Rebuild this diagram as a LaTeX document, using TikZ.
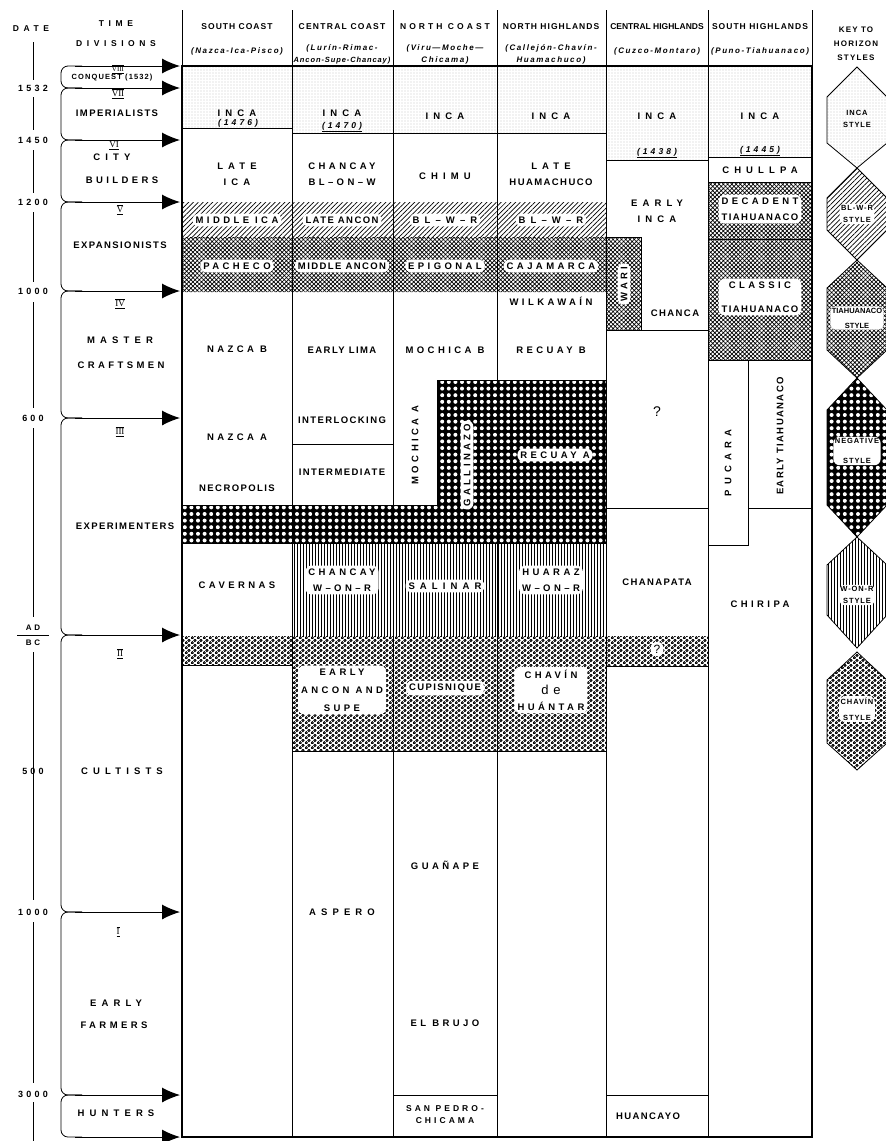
\documentclass[tikz,border=0pt]{standalone}
\usepackage{fontspec}
\setmainfont{Liberation Sans}
\newfontfamily\trackA[LetterSpace=15]{Liberation Sans}
\newfontfamily\trackB[LetterSpace=36]{Liberation Sans}
\newfontfamily\trackC[LetterSpace=54]{Liberation Sans}
\newfontfamily\trackH[LetterSpace=12]{Liberation Sans}
\newfontfamily\subfont[LetterSpace=20]{Liberation Sans}
\newfontfamily\romfont{Liberation Serif}
\usetikzlibrary{patterns.meta,arrows.meta}

\newcommand{\rnum}[1]{$\overline{\underline{\mbox{\romfont #1}}}$}

\tikzdeclarepattern{
  name=rings,
  type=uncolored,
  bottom left={(0pt,0pt)},
  top right={(5.6pt,4.9pt)},
  tile size={(5.6pt,4.9pt)},
  code={
    \draw[line width=.9pt] (1.4pt,1.2pt) circle [radius=1.2pt];
    \draw[line width=.9pt] (4.2pt,3.65pt) circle [radius=1.2pt];
  }
}

\tikzset{
  incast/.style={pattern={Dots[distance=3pt,radius=.4pt]}, pattern color=black!60},
  bwrst/.style={pattern={Lines[angle=45,distance=3.4pt,line width=.7pt]}},
  tiast/.style={pattern={Hatch[angle=45,distance=3pt,line width=.7pt]}},
  negst/.style={preaction={fill=black}, pattern={Dots[distance=6.6pt,radius=2pt]}, pattern color=white},
  worst/.style={pattern={Lines[angle=90,distance=3pt,line width=.8pt]}},
  chavst/.style={pattern=rings},
  divarrow/.style={line width=1pt, -{Latex[length=18pt,width=15pt]}},
  t1/.style={align=center, inner sep=1.5pt, font=\fontsize{9.5}{16}\selectfont\trackA\bfseries},
  t2/.style={align=center, inner sep=1.5pt, font=\fontsize{9.5}{16}\selectfont\trackB\bfseries},
  t3/.style={align=center, inner sep=1.5pt, font=\fontsize{9.5}{16}\selectfont\trackC\bfseries},
  blob/.style={fill=white, rounded corners=6pt, inner sep=3pt},
  yr/.style={inner sep=1pt, font=\fontsize{8.5}{9}\selectfont\trackB\bfseries\itshape},
  top/.style={align=center, inner sep=1pt, font=\fontsize{8.5}{20}\selectfont\trackC\bfseries},
  hd/.style={inner sep=0pt, font=\fontsize{8.5}{9}\selectfont\trackH\bfseries},
  sub/.style={inner sep=0pt, font=\fontsize{8}{9}\selectfont\subfont\bfseries\itshape},
  dt/.style={inner sep=1pt, font=\fontsize{9}{9}\selectfont\trackB\bfseries},
  rn/.style={inner sep=1pt, font=\fontsize{9}{9}\selectfont},
  ky/.style={align=center, inner sep=1.5pt, font=\fontsize{7.5}{12}\selectfont\trackH\bfseries},
}

\begin{document}
\begin{tikzpicture}[x=1pt,y=-1pt,line width=.8pt]
  \useasboundingbox (0,0) rectangle (886,1141);

  % horizon style areas
  \fill[incast] (182,66) rectangle (292,128) (292,66) rectangle (606,133)
    (606,66) rectangle (708,160) (708,66) rectangle (812,157);
  \fill[bwrst] (182,202) rectangle (606,237);
  \fill[tiast] (182,237) rectangle (606,292) (606,237) rectangle (641,330)
    (708,182) rectangle (812,360);
  \draw[negst] (437,380) -- (606,380) -- (606,543) -- (182,543) -- (182,505) -- (437,505) -- cycle;
  \fill[worst] (292,543) rectangle (606,636);
  \fill[chavst] (182,636) rectangle (292,665) (292,636) rectangle (606,751)
    (606,636) rectangle (708,666);

  % columns and separators
  \foreach \x in {182,292,393,497,606,708,812}
    \draw (\x,10) -- (\x,1137);
  \draw (182,128) -- (292,128);
  \draw (292,133) -- (606,133);
  \draw (606,160) -- (708,160);
  \draw (708,157) -- (812,157);
  \draw (708,182) -- (812,182);
  \draw (708,239) -- (812,239);
  \draw (606,237) -- (641,237) -- (641,330);
  \draw (606,330) -- (708,330);
  \draw (708,360) -- (812,360);
  \draw (748,360) -- (748,545) -- (708,545);
  \draw (748,508) -- (812,508);
  \draw (606,508) -- (708,508);
  \draw (292,444) -- (393,444);
  \draw (182,665) -- (292,665);
  \draw (292,751) -- (606,751);
  \draw (606,666) -- (708,666);
  \draw (393,1095) -- (497,1095);
  \draw (606,1095) -- (708,1095);
  \draw[line width=1.6pt] (182,66) -- (812,66);
  \draw[line width=1.5pt] (182,66) rectangle (812,1137);

  % dates
  \foreach \a/\b in {42/80,97/130,150/193,212/282,302/408,428/617,652/900,922/1083,1102/1141}
    \draw[line width=.9pt] (33,\a) -- (33,\b);
  \draw (17,635) -- (49,635);
  \node[top] (hdate) at (31,29) {DATE};
  \node[dt] (d1) at (33,88) {1532};
  \node[dt] (d2) at (33,140) {1450};
  \node[dt] (d3) at (33,202) {1200};
  \node[dt] (d4) at (33,291) {1000};
  \node[dt] (d5) at (33,418) {600};
  \node[dt, font=\fontsize{8}{8}\selectfont\trackB\bfseries] (dad) at (33,628) {AD};
  \node[dt, font=\fontsize{8}{8}\selectfont\trackB\bfseries] (dbc) at (33,643) {BC};
  \node[dt] (d6) at (33,771) {500};
  \node[dt] (d7) at (33,912) {1000};
  \node[dt] (d8) at (33,1094) {3000};

  % time divisions
  \foreach \a/\b in {66/88,88/140,140/202,202/291,291/418,418/635,635/912,912/1095,1095/1137}
    \draw[rounded corners=7pt] (82,\a) -- (61,\a) -- (61,\b) -- (82,\b);
  \foreach \y [count=\i] in {66,88,140,202,291,418,635,912,1095,1137} {
    \coordinate (as\i) at (75,\y);
    \coordinate (ae\i) at (180,\y);
    \draw[divarrow] (as\i) -- (ae\i);
  }
  \node[top, font=\fontsize{8.5}{20}\selectfont\trackC\bfseries] (htime) at (116,34) {TIME\\DIVISIONS};
  \node[rn, font=\fontsize{7}{7}\selectfont] (r8) at (118,69) {\rnum{VIII}};
  \node[inner sep=0pt, font=\fontsize{7.5}{8}\selectfont\trackA\bfseries] (conq) at (112,78) {CONQUEST (1532)};
  \node[rn] (r7) at (118,94) {\rnum{VII}};
  \node[t1] (imp) at (117,113) {IMPERIALISTS};
  \node[rn] (r6) at (114,145) {\rnum{VI}};
  \node[t3] (city) at (112,157) {CITY};
  \node[t2] (build) at (122,180) {BUILDERS};
  \node[rn] (r5) at (120,210) {\rnum{V}};
  \node[t1] (expa) at (120,245) {EXPANSIONISTS};
  \node[rn] (r4) at (120,304) {\rnum{IV}};
  \node[t3] (mast) at (120,340) {MASTER};
  \node[t2] (craft) at (121,365) {CRAFTSMEN};
  \node[rn] (r3) at (120,432) {\rnum{III}};
  \node[t1] (expe) at (125,526) {EXPERIMENTERS};
  \node[rn] (r2) at (120,654) {\rnum{II}};
  \node[t3] (cult) at (122,771) {CULTISTS};
  \node[rn] (r1) at (118,932) {\rnum{I}};
  \node[t3] (early) at (116,1003) {EARLY};
  \node[t2] (farm) at (114,1025) {FARMERS};
  \node[t3] (hunt) at (116,1113) {HUNTERS};

  % column heads
  \node[hd] (hsc) at (237,27) {SOUTH COAST};
  \node[hd, font=\fontsize{8.5}{9}\selectfont\trackA\bfseries] (hcc) at (342,27) {CENTRAL COAST};
  \node[hd, font=\fontsize{8.5}{9}\selectfont\trackB\bfseries] (hnc) at (445,27) {NORTH COAST};
  \node[hd] (hnh) at (551,27) {NORTH HIGHLANDS};
  \node[hd, font=\fontsize{8.5}{9}\selectfont\bfseries] (hch) at (657,27) {CENTRAL HIGHLANDS};
  \node[hd] (hsh) at (760,27) {SOUTH HIGHLANDS};
  \node[sub] (ssc) at (237,51) {(Nazca-Ica-Pisco)};
  \node[sub] (scc) at (342,48) {(Lurín-Rimac-};
  \node[sub, font=\fontsize{7.5}{8}\selectfont\trackH\bfseries\itshape] (scc2) at (342,61) {Ancon-Supe-Chancay)};
  \node[sub] (snc) at (445,48) {(Viru—Moche—};
  \node[sub] (snc2) at (445,60) {Chicama)};
  \node[sub] (snh) at (551,48) {(Callejón-Chavín-};
  \node[sub] (snh2) at (551,60) {Huamachuco)};
  \node[sub] (sch) at (657,51) {(Cuzco-Montaro)};
  \node[sub] (ssh) at (760,51) {(Puno-Tiahuanaco)};
  \node[top, font=\fontsize{8}{14}\selectfont\trackA\bfseries] (hkey) at (856,44) {KEY TO\\HORIZON\\STYLES};

  % south coast
  \node[t3] (sc1) at (237,113) {INCA};
  \node[yr] (sc2) at (238,124) {\underline{(1476)}};
  \node[t3] (sc3) at (237,174) {LATE\\ICA};
  \node[t2,blob] (sc4) at (237,220) {MIDDLE ICA};
  \node[t2,blob] (sc5) at (237,266) {PACHECO};
  \node[t2] (sc6) at (237,349) {NAZCA B};
  \node[t2] (sc7) at (237,437) {NAZCA A};
  \node[t1] (sc8) at (237,488) {NECROPOLIS};
  \node[t2] (sc9) at (237,585) {CAVERNAS};

  % central coast
  \node[t3] (cc1) at (342,113) {INCA};
  \node[yr] (cc2) at (342,127) {\underline{(1470)}};
  \node[t2] (cc3) at (342,174) {CHANCAY\\BL–ON–W};
  \node[t1,blob] (cc4) at (342,220) {LATE ANCON};
  \node[t1,blob] (cc5) at (342,266) {MIDDLE ANCON};
  \node[t1] (cc6) at (342,350) {EARLY LIMA};
  \node[t1] (cc7) at (342,420) {INTERLOCKING};
  \node[t1] (cc8) at (342,472) {INTERMEDIATE};
  \node[t2,blob] (cc9) at (342,580) {CHANCAY\\W–ON–R};
  \node[t2,blob,font=\fontsize{9.5}{18}\selectfont\trackB\bfseries] (cc10) at (342,690) {EARLY\\ANCON AND\\SUPE};
  \node[t3] (cc11) at (342,912) {ASPERO};

  % north coast
  \node[t3] (nc1) at (445,116) {INCA};
  \node[t3] (nc2) at (445,176) {CHIMU};
  \node[t3,blob] (nc3) at (445,220) {BL–W–R};
  \node[t2,blob] (nc4) at (445,266) {EPIGONAL};
  \node[t2] (nc5) at (445,350) {MOCHICA B};
  \node[t2,rotate=90] (nc6) at (415,445) {MOCHICA A};
  \node[t2,blob,rotate=90] (nc7) at (467,465) {GALLINAZO};
  \node[t3,blob] (nc8) at (445,586) {SALINAR};
  \node[t1,blob] (nc9) at (445,688) {CUPISNIQUE};
  \node[t2] (nc10) at (445,865) {GUAÑAPE};
  \node[t2] (nc11) at (445,1023) {EL BRUJO};
  \node[t2,font=\fontsize{8.5}{12}\selectfont\trackB\bfseries] (nc12) at (445,1115) {SAN PEDRO-\\CHICAMA};

  % north highlands
  \node[t3] (nh1) at (551,116) {INCA};
  \node[t1] (nh2) at (551,174) {{\trackC\bfseries LATE}\\HUAMACHUCO};
  \node[t3,blob] (nh3) at (551,220) {BL–W–R};
  \node[t2,blob] (nh4) at (551,266) {CAJAMARCA};
  \node[t2] (nh5) at (551,301) {WILKAWAÍN};
  \node[t2] (nh6) at (551,350) {RECUAY B};
  \node[t2,blob] (nh7) at (555,455) {RECUAY A};
  \node[t2,blob] (nh8) at (551,580) {HUARAZ\\W–ON–R};
  \node[t2,blob] (nh9) at (551,690) {CHAVÍN\\{\fontsize{13}{13}\selectfont\mdseries de}\\HUÁNTAR};

  % central highlands
  \node[t3] (ch1) at (657,116) {INCA};
  \node[yr] (ch2) at (657,153) {\underline{(1438)}};
  \node[t3] (ch3) at (657,211) {EARLY\\INCA};
  \node[t2,blob,rotate=90] (ch4) at (624,284) {WARI};
  \node[t1] (ch5) at (675,313) {CHANCA};
  \node[t1,font=\fontsize{14}{14}\selectfont] (ch6) at (657,412) {?};
  \node[t1] (ch7) at (657,582) {CHANAPATA};
  \node[t1,blob,font=\fontsize{12}{12}\selectfont] (ch8) at (657,649) {?};
  \node[t1] (ch9) at (648,1116) {HUANCAYO};

  % south highlands
  \node[t3] (sh1) at (760,116) {INCA};
  \node[yr] (sh2) at (760,151) {\underline{(1445)}};
  \node[t3] (sh3) at (760,170) {CHULLPA};
  \node[t1,blob] (sh4) at (760,209) {{\trackB\bfseries DECADENT}\\TIAHUANACO};
  \node[t1,blob,font=\fontsize{9.5}{24}\selectfont\trackA\bfseries] (sh5) at (760,297) {{\trackB\bfseries CLASSIC}\\TIAHUANACO};
  \node[t3,rotate=90] (sh6) at (728,463) {PUCARA};
  \node[t1,rotate=90] (sh7) at (780,436) {EARLY TIAHUANACO};
  \node[t2] (sh8) at (760,604) {CHIRIPA};

  % key to horizon styles
  \draw[incast] (857,67) -- (887,97) -- (887,143) -- (857,168) -- (827,143) -- (827,97) -- cycle;
  \draw[bwrst] (857,168) -- (887,198) -- (887,230) -- (857,260) -- (827,230) -- (827,198) -- cycle;
  \draw[tiast] (857,260) -- (887,288) -- (887,350) -- (857,378) -- (827,350) -- (827,288) -- cycle;
  \draw[negst] (857,378) -- (887,410) -- (887,505) -- (857,537) -- (827,505) -- (827,410) -- cycle;
  \draw[worst] (857,537) -- (887,565) -- (887,615) -- (857,648) -- (827,615) -- (827,565) -- cycle;
  \draw[chavst] (857,652) -- (887,680) -- (887,743) -- (857,770) -- (827,743) -- (827,680) -- cycle;
  \node[ky] (k1) at (857,119) {INCA\\STYLE};
  \node[ky,blob,inner sep=1.5pt] (k2) at (857,214) {BL-W-R\\STYLE};
  \node[ky,blob,inner sep=1.5pt,font=\fontsize{7.5}{15}\selectfont\bfseries] (k3) at (857,318) {TIAHUANACO\\STYLE};
  \node[ky,blob,inner sep=1.5pt,font=\fontsize{7.5}{20}\selectfont\trackH\bfseries] (k4) at (857,451) {NEGATIVE\\STYLE};
  \node[ky,blob,inner sep=1.5pt] (k5) at (857,595) {W-ON-R\\STYLE};
  \node[ky,blob,inner sep=1.5pt,font=\fontsize{7.5}{16}\selectfont\trackH\bfseries] (k6) at (857,709) {CHAVÍN\\STYLE};
\end{tikzpicture}
\end{document}
